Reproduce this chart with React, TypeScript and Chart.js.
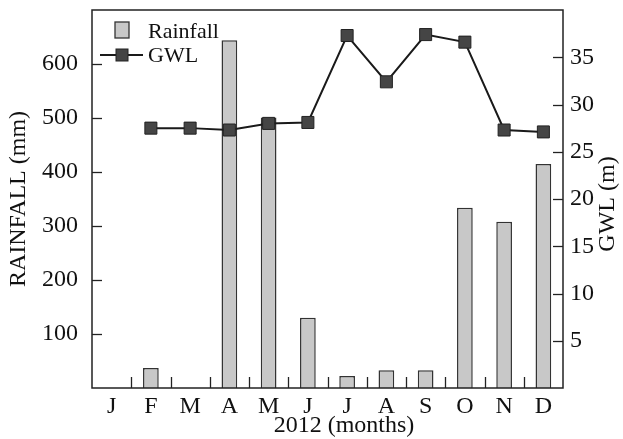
import React, { useEffect, useRef } from "react";
import { Chart, registerables } from "chart.js";

Chart.register(...registerables);

const months = ["J", "F", "M", "A", "M", "J", "J", "A", "S", "O", "N", "D"];
const rainfall = [0, 37, 0, 644, 501, 130, 22, 33, 33, 334, 308, 415];
const gwl = [null, 27.5, 27.5, 27.3, 28.0, 28.1, 37.3, 32.4, 37.4, 36.6, 27.3, 27.1];
const rainLabel = "Rainfall";
const gwlLabel = "GWL";
const xTitle = "2012 (months)";
const yTitle = "RAINFALL (mm)";
const y1Title = "GWL (m)";

const FONT = '"Liberation Serif", "Times New Roman", serif';
const FS = 24;
const BAR_FILL = "#c8c8c8";
const BAR_EDGE = "#333333";
const LINE = "#1a1a1a";
const MARK = "#454545";

const framePlugin = {
  id: "framePlugin",
  afterDraw(chart: any) {
    const { ctx, chartArea } = chart;
    const { left, right, top, bottom } = chartArea;
    ctx.save();
    ctx.strokeStyle = "#222";
    ctx.lineWidth = 1.5;
    ctx.strokeRect(left, top, right - left, bottom - top);
    // inward ticks
    ctx.lineWidth = 1.3;
    const y = chart.scales.y;
    y.ticks.forEach((t: any) => {
      if (t.value <= y.min || t.value >= y.max) return;
      const py = Math.round(y.getPixelForValue(t.value)) + 0.5;
      ctx.beginPath();
      ctx.moveTo(left, py);
      ctx.lineTo(left + 10, py);
      ctx.stroke();
    });
    const y1 = chart.scales.y1;
    y1.ticks.forEach((t: any) => {
      if (t.value <= y1.min || t.value >= y1.max) return;
      const py = Math.round(y1.getPixelForValue(t.value)) + 0.5;
      ctx.beginPath();
      ctx.moveTo(right, py);
      ctx.lineTo(right - 10, py);
      ctx.stroke();
    });
    const n = months.length;
    for (let i = 1; i < n; i++) {
      const px = Math.round(left + (i * (right - left)) / n) + 0.5;
      ctx.beginPath();
      ctx.moveTo(px, bottom);
      ctx.lineTo(px, bottom - 11);
      ctx.stroke();
    }
    ctx.font = `${FS}px ${FONT}`;
    ctx.fillStyle = "#111";
    // bottom axis title
    ctx.textAlign = "center";
    ctx.textBaseline = "middle";
    ctx.fillText(xTitle, 344, 426);
    // right axis title (reads bottom-to-top)
    ctx.save();
    ctx.translate(608, (top + bottom) / 2 + 5);
    ctx.rotate(-Math.PI / 2);
    ctx.fillText(y1Title, 0, 0);
    ctx.restore();
    // legend
    ctx.font = `22px ${FONT}`;
    ctx.textBaseline = "alphabetic";
    ctx.textAlign = "left";
    ctx.fillStyle = BAR_FILL;
    ctx.fillRect(115, 22, 14, 16);
    ctx.strokeStyle = BAR_EDGE;
    ctx.lineWidth = 1.3;
    ctx.strokeRect(115, 22, 14, 16);
    ctx.fillStyle = "#111";
    ctx.fillText(rainLabel, 148, 38);
    ctx.strokeStyle = LINE;
    ctx.lineWidth = 2;
    ctx.beginPath();
    ctx.moveTo(100, 55);
    ctx.lineTo(143, 55);
    ctx.stroke();
    ctx.fillStyle = MARK;
    ctx.fillRect(116, 49, 12, 12);
    ctx.strokeStyle = "#222";
    ctx.lineWidth = 1;
    ctx.strokeRect(116, 49, 12, 12);
    ctx.fillStyle = "#111";
    ctx.fillText(gwlLabel, 148, 62);
    ctx.restore();
  },
};

export default function App() {
  const ref = useRef<HTMLCanvasElement>(null);
  useEffect(() => {
    document.body.style.margin = "0";
    const chart = new Chart(ref.current!, {
      type: "bar",
      data: {
        labels: months,
        datasets: [
          {
            type: "line",
            label: gwlLabel,
            data: gwl,
            yAxisID: "y1",
            borderColor: LINE,
            borderWidth: 2,
            pointStyle: "rect",
            pointRadius: 8.5,
            pointBackgroundColor: MARK,
            pointBorderColor: "#222",
            pointBorderWidth: 1,
            tension: 0,
            order: 0,
          } as any,
          {
            type: "bar",
            label: rainLabel,
            data: rainfall,
            yAxisID: "y",
            backgroundColor: BAR_FILL,
            borderColor: BAR_EDGE,
            borderWidth: 1.5,
            categoryPercentage: 1,
            barPercentage: 0.4,
            order: 1,
          },
        ],
      },
      options: {
        animation: false,
        responsive: true,
        maintainAspectRatio: false,
        layout: { padding: { top: 10 } },
        plugins: { legend: { display: false }, tooltip: { enabled: false } },
        scales: {
          x: {
            offset: true,
            grid: { display: false, drawTicks: false },
            border: { display: false },
            ticks: { color: "#111", font: { family: FONT, size: FS }, padding: 4 },
            afterFit(s: any) {
              s.height = 51;
              s.paddingLeft = 0;
              s.paddingRight = 0;
            },
          },
          y: {
            position: "left",
            min: 0,
            max: 700,
            grid: { display: false, drawTicks: false },
            border: { display: false },
            ticks: {
              stepSize: 100,
              color: "#111",
              font: { family: FONT, size: FS },
              padding: 14,
              callback: (v: any) => (v === 0 || v === 700 ? "" : String(v)),
            },
            title: {
              display: true,
              text: yTitle,
              color: "#111",
              font: { family: FONT, size: FS },
              padding: { top: 4, bottom: 0 },
            },
            afterFit(s: any) {
              s.width = 92;
              s.paddingTop = 0;
              s.paddingBottom = 0;
            },
          },
          y1: {
            position: "right",
            min: 0,
            max: 40,
            grid: { display: false, drawTicks: false },
            border: { display: false },
            ticks: {
              stepSize: 5,
              color: "#111",
              font: { family: FONT, size: FS },
              padding: 7,
              callback: (v: any) => (v === 0 || v === 40 ? "" : String(v)),
            },
            afterFit(s: any) {
              s.width = 60;
              s.paddingTop = 0;
              s.paddingBottom = 0;
            },
          },
        },
      },
      plugins: [framePlugin],
    });
    return () => chart.destroy();
  }, []);
  return (
    <div style={{ width: 623, height: 439, position: "relative" }}>
      <canvas ref={ref} />
    </div>
  );
}
